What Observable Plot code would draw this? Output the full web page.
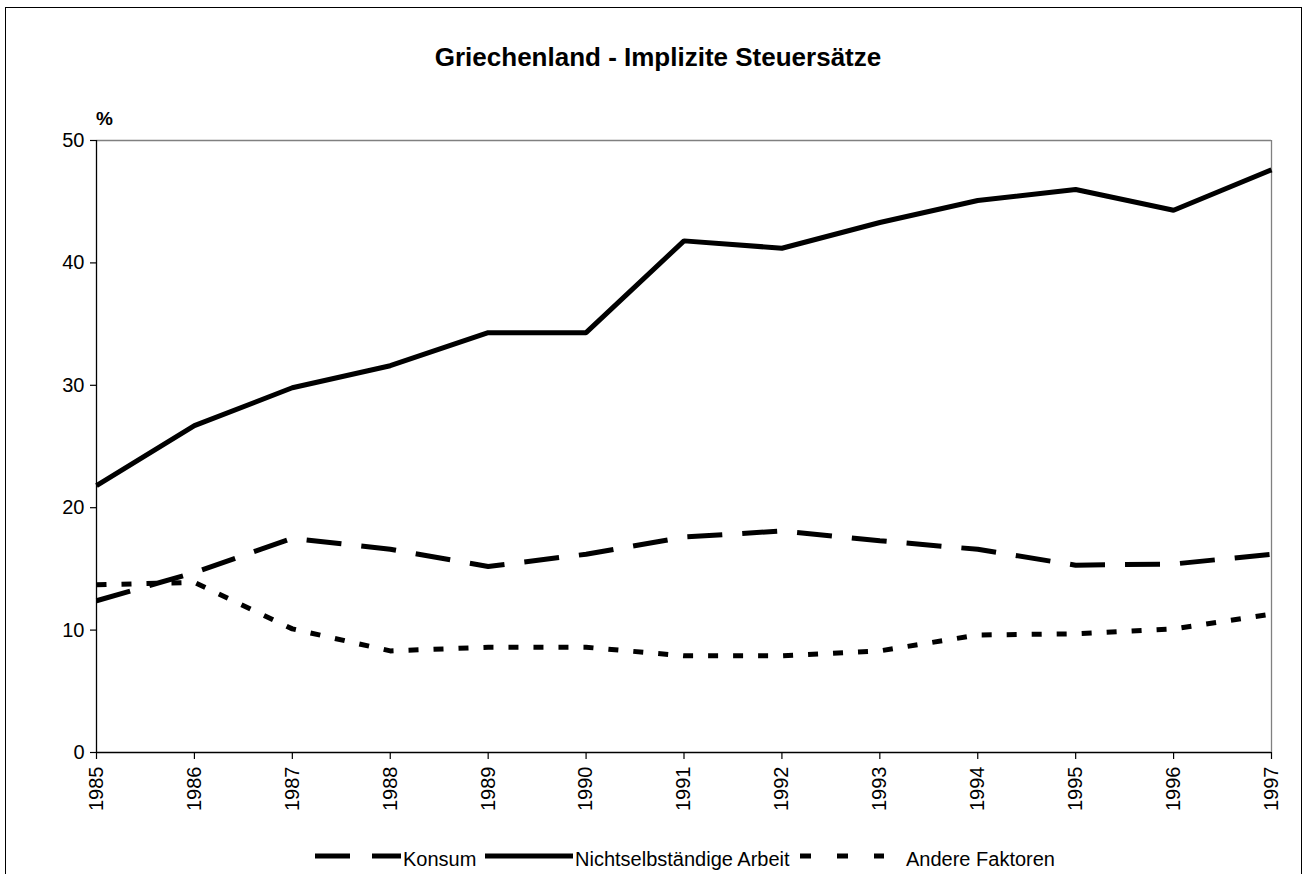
<!DOCTYPE html>
<html>
<head>
<meta charset="utf-8">
<script src="https://cdn.jsdelivr.net/npm/d3@7"></script>
<script src="https://cdn.jsdelivr.net/npm/@observablehq/plot@0.6"></script>
<style>
  html, body { margin: 0; padding: 0; background: #fff; }
  #wrap { position: relative; width: 1310px; height: 874px; overflow: hidden; font-family: "Liberation Sans", Arial, sans-serif; color: #000; }
  #border { position: absolute; left: 5px; top: 7px; width: 1297px; height: 900px; border: 1.5px solid #000; box-sizing: border-box; }
  #title { position: absolute; left: 0; top: 44px; width: 1316px; text-align: center; font-weight: bold; font-size: 26px; line-height: 1; }
  #unit { position: absolute; left: 96px; top: 109px; font-weight: bold; font-size: 19px; line-height: 1; }
  #chart { position: absolute; left: 0; top: 0; }
  .lg { position: absolute; font-size: 20px; line-height: 1; white-space: nowrap; }
  .ls { position: absolute; }
</style>
</head>
<body>
<div id="wrap">
  <div id="border"></div>
  <div id="chart"></div>
  <div id="title">Griechenland - Implizite Steuersätze</div>
  <div id="unit">%</div>
  <div id="legend"></div>
</div>
<script>
const years = [1985, 1986, 1987, 1988, 1989, 1990, 1991, 1992, 1993, 1994, 1995, 1996, 1997];
const konsum = [12.4, 14.7, 17.5, 16.6, 15.2, 16.2, 17.6, 18.1, 17.3, 16.6, 15.3, 15.4, 16.2];
const arbeit = [21.8, 26.7, 29.8, 31.6, 34.3, 34.3, 41.8, 41.2, 43.3, 45.1, 46.0, 44.3, 47.6];
const andere = [13.7, 13.9, 10.1, 8.3, 8.6, 8.6, 7.9, 7.9, 8.3, 9.6, 9.7, 10.1, 11.3];
const seriesNames = ["Konsum", "Nichtselbständige Arbeit", "Andere Faktoren"];
const yTicks = [0, 10, 20, 30, 40, 50];

const rows = (vals) => years.map((y, i) => ({year: y, value: vals[i]}));

const lineStyles = [
  {strokeDasharray: "35,20", strokeLinecap: "butt"},
  {strokeLinecap: "butt"},
  {strokeDasharray: "10,15", strokeLinecap: "butt"}
];
const seriesVals = [konsum, arbeit, andere];

const chart = Plot.plot({
  width: 1310,
  height: 874,
  marginLeft: 96,
  marginRight: 39,
  marginTop: 140,
  marginBottom: 122,
  x: {domain: [1985, 1997]},
  y: {domain: [0, 50]},
  style: {fontFamily: "'Liberation Sans', Arial, sans-serif", fontSize: "20px", color: "#000", background: "transparent", overflow: "visible"},
  marks: [
    Plot.ruleY([50], {stroke: "#808080", strokeWidth: 1.3}),
    Plot.ruleX([1997], {stroke: "#808080", strokeWidth: 1.3}),
    Plot.axisY({ticks: yTicks, tickSize: 6, tickPadding: 6, fontSize: 20, label: null, strokeWidth: 1.2}),
    Plot.axisX({ticks: years, tickFormat: d => String(d), tickRotate: -90, tickSize: 7, tickPadding: 7, fontSize: 20, label: null, strokeWidth: 1.2}),
    Plot.ruleX([1985], {stroke: "#000", strokeWidth: 1.3}),
    Plot.ruleY([0], {stroke: "#000", strokeWidth: 1.3}),
    ...seriesVals.map((vals, i) => Plot.line(rows(vals), {
      x: "year", y: "value", stroke: "#000", strokeWidth: 5, strokeLinejoin: "miter", ...lineStyles[i]
    }))
  ]
});
document.getElementById("chart").appendChild(chart);

// legend
const legend = document.getElementById("legend");
const items = [
  {sx: 315, sw: 86, text: seriesNames[0], tx: 403, dash: "35,22"},
  {sx: 485, sw: 88, text: seriesNames[1], tx: 575, dash: null},
  {sx: 800, sw: 84, text: seriesNames[2], tx: 906, dash: "11,26"}
];
const ns = "http://www.w3.org/2000/svg";
items.forEach(it => {
  const svg = document.createElementNS(ns, "svg");
  svg.setAttribute("class", "ls");
  svg.setAttribute("width", it.sw);
  svg.setAttribute("height", 10);
  svg.style.left = it.sx + "px";
  svg.style.top = "851px";
  const ln = document.createElementNS(ns, "line");
  ln.setAttribute("x1", 0); ln.setAttribute("x2", it.sw);
  ln.setAttribute("y1", 5); ln.setAttribute("y2", 5);
  ln.setAttribute("stroke", "#000"); ln.setAttribute("stroke-width", 5);
  if (it.dash) ln.setAttribute("stroke-dasharray", it.dash);
  svg.appendChild(ln);
  legend.appendChild(svg);
  const t = document.createElement("div");
  t.className = "lg";
  t.textContent = it.text;
  t.style.left = it.tx + "px";
  t.style.top = "849px";
  legend.appendChild(t);
});
</script>
</body>
</html>
